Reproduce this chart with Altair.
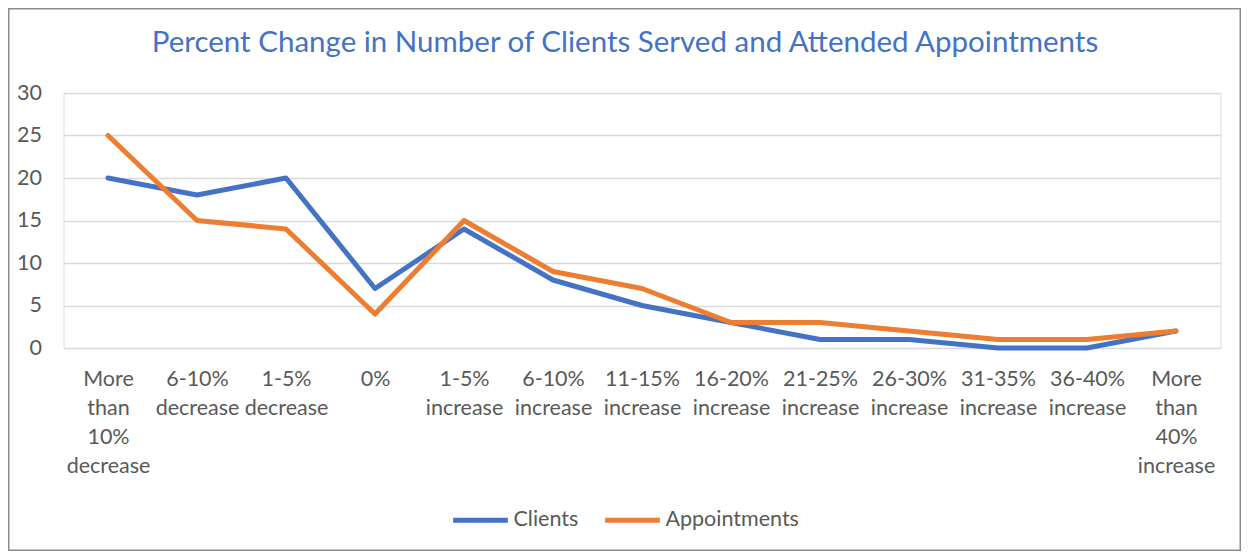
import altair as alt
import pandas as pd

title_text = "Percent Change in Number of Clients Served and Attended Appointments"
categories = [
    "More than 10% decrease", "6-10% decrease", "1-5% decrease", "0%",
    "1-5% increase", "6-10% increase", "11-15% increase", "16-20% increase",
    "21-25% increase", "26-30% increase", "31-35% increase", "36-40% increase",
    "More than 40% increase",
]
clients = [20, 18, 20, 7, 14, 8, 5, 3, 1, 1, 0, 0, 2]
appointments = [25, 15, 14, 4, 15, 9, 7, 3, 3, 2, 1, 1, 2]
series = ["Clients", "Appointments"]
colors = ["#4472C4", "#ED7D31"]
y_ticks = [0, 5, 10, 15, 20, 25, 30]

rows = []
for name, vals in zip(series, [clients, appointments]):
    for i, (c, v) in enumerate(zip(categories, vals)):
        rows.append({"Category": c, "Value": v, "Series": name, "idx": i})
df = pd.DataFrame(rows)

W, H = 1157, 255
PL, PT, PR, PB = 55.5, 85, 20.5, 203
FONT = "Lato"

lines = alt.Chart(df).mark_line(strokeWidth=5, strokeCap="round", strokeJoin="round").encode(
    x=alt.X("Category:N", sort=categories, title=None,
            scale=alt.Scale(paddingInner=1, paddingOuter=0.5),
            axis=alt.Axis(labelAngle=0, labelExpr="split(datum.label, ' ')",
                          labelLineHeight=29, labelFontSize=21.5, labelFont=FONT,
                          labelColor="#595959", labelPadding=20, ticks=False,
                          domain=False, grid=False, labelBaseline="top")),
    y=alt.Y("Value:Q", title=None,
            scale=alt.Scale(domain=[0, 30], nice=False),
            axis=alt.Axis(values=y_ticks, labelFontSize=21.5, labelFont=FONT,
                          labelColor="#595959", labelPadding=22, ticks=False,
                          domain=False, gridColor="#D9D9D9", gridWidth=1.3)),
    color=alt.Color("Series:N", sort=series,
                    scale=alt.Scale(domain=series, range=colors),
                    legend=alt.Legend(title=None, orient="none", direction="horizontal",
                                      legendX=387, legendY=397,
                                      symbolType="stroke", symbolSize=3000,
                                      symbolStrokeWidth=5, labelFontSize=21.5,
                                      labelFont=FONT, labelColor="#595959",
                                      labelOffset=3, columnPadding=16)),
    order="idx:Q",
)

border = alt.Chart(pd.DataFrame({"a": [0]})).mark_rect(
    fill=None, stroke="#8C8C8C", strokeWidth=1.5
).encode(
    x=alt.value(-PL + 0.75), x2=alt.value(W + PR - 0.75),
    y=alt.value(-PT + 0.75), y2=alt.value(H + PB - 0.75),
)

title = alt.Chart(pd.DataFrame({"t": [title_text]})).mark_text(
    font=FONT, fontSize=29.5, color="#4472C4", align="center", baseline="alphabetic"
).encode(
    text="t:N", x=alt.value(W / 2 - 17), y=alt.value(-41),
)

chart = alt.layer(border, title, lines).properties(
    width=W, height=H,
    autosize=alt.AutoSizeParams(type="none"),
    padding={"left": PL, "top": PT, "right": PR, "bottom": PB},
).configure_view(stroke=None).configure(background="white")

chart.save("out.html", embed_options={"renderer": "svg", "actions": False})
